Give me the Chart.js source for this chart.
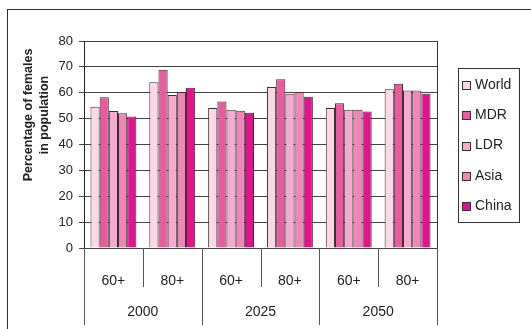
<!DOCTYPE html>
<html lang="en">
<head>
<meta charset="UTF-8">
<title>Percentage of females in population</title>
<script src="https://cdn.jsdelivr.net/npm/chart.js"></script>
<style>
  body { margin: 0; background: #fff; }
  #frame { position: absolute; left: 7px; top: 9px; width: 540px; height: 340px;
           border-left: 1px solid #333; border-top: 1px solid #333; }
  #wrap { position: absolute; left: 0; top: 0; width: 531px; height: 329px; }
</style>
</head>
<body>
<div id="frame"></div>
<div id="wrap"><canvas id="femChart"></canvas></div>
<script>
  const ageGroups = ['60+', '80+', '60+', '80+', '60+', '80+'];
  const years = ['2000', '2025', '2050'];
  const world = [54.6, 64.1, 54.1, 62.2, 54.1, 61.4];
  const mdr   = [58.3, 68.9, 56.6, 65.2, 55.9, 63.5];
  const ldr   = [52.9, 59.1, 53.4, 59.6, 53.4, 60.9];
  const asia  = [52.1, 60.3, 53.0, 60.3, 53.4, 60.9];
  const china = [50.8, 61.9, 52.3, 58.5, 52.8, 59.6];
  const yMax = 80, yStep = 10;

  const FONT = '"Liberation Sans", Arial, sans-serif';
  const INK = '#222';

  // year brackets under the age labels, right border, y title and boxed legend
  const extras = {
    id: 'extras',
    afterDraw(chart) {
      const ctx = chart.ctx, x = chart.scales.x, a = chart.chartArea;
      const step = x.getPixelForValue(1) - x.getPixelForValue(0);
      ctx.save();
      ctx.strokeStyle = '#555';
      ctx.lineWidth = 1;
      for (let i = 0; i <= ageGroups.length; i++) {
        const px = Math.round(x.getPixelForValue(i) - step / 2) + 0.5;
        ctx.beginPath();
        ctx.moveTo(px, a.bottom);
        ctx.lineTo(px, i % 2 === 0 ? 325 : 287);
        ctx.stroke();
      }
      ctx.strokeStyle = '#333';
      ctx.beginPath();
      ctx.moveTo(Math.round(a.right) + 0.5, a.top);
      ctx.lineTo(Math.round(a.right) + 0.5, a.bottom);
      ctx.stroke();

      ctx.fillStyle = INK;
      ctx.font = '14px ' + FONT;
      ctx.textAlign = 'center';
      ctx.textBaseline = 'middle';
      years.forEach((yr, k) => {
        const cx = (x.getPixelForValue(2 * k) + x.getPixelForValue(2 * k + 1)) / 2;
        ctx.fillText(yr, cx, 312);
      });

      ctx.save();
      ctx.translate(37, 115);
      ctx.rotate(-Math.PI / 2);
      ctx.font = 'bold 12.5px ' + FONT;
      ctx.fillText('Percentage of females', 0, -8);
      ctx.fillText('in population', 0, 8);
      ctx.restore();

      ctx.strokeStyle = '#333';
      ctx.strokeRect(458.5, 68.5, 61, 154);
      ctx.font = '14px ' + FONT;
      ctx.textAlign = 'left';
      chart.data.datasets.forEach((ds, i) => {
        const cy = 85 + i * 30.3;
        ctx.fillStyle = ds.backgroundColor;
        ctx.fillRect(462.5, Math.round(cy - 4) + 0.5, 8, 8);
        ctx.strokeRect(462.5, Math.round(cy - 4) + 0.5, 8, 8);
        ctx.fillStyle = INK;
        ctx.fillText(ds.label, 475, cy);
      });
      ctx.restore();
    }
  };

  const series = [
    ['World', world, '#fcd8e6'],
    ['MDR', mdr, '#ea5a9e'],
    ['LDR', ldr, '#f6aacd'],
    ['Asia', asia, '#f085b8'],
    ['China', china, '#e5138b']
  ];

  new Chart(document.getElementById('femChart'), {
    type: 'bar',
    data: {
      labels: ageGroups,
      datasets: series.map(([label, data, color]) => ({
        label, data,
        backgroundColor: color,
        borderColor: '#333',
        borderWidth: 1,
        borderSkipped: 'bottom',
        categoryPercentage: 0.78,
        barPercentage: 1.0
      }))
    },
    options: {
      responsive: true,
      maintainAspectRatio: false,
      animation: false,
      layout: { padding: { top: 41, right: 94, left: 0, bottom: 0 } },
      plugins: { legend: { display: false }, tooltip: { enabled: false } },
      scales: {
        x: {
          grid: { display: false },
          border: { display: false },
          ticks: { color: INK, font: { family: FONT, size: 14 }, padding: 17, maxRotation: 0 },
          afterFit(s) { s.height = 81; }
        },
        y: {
          min: 0, max: yMax,
          grid: { color: '#444', tickLength: 5 },
          border: { color: '#222' },
          ticks: { stepSize: yStep, color: INK, font: { family: FONT, size: 13 }, padding: 6 },
          afterFit(s) { s.width = 84; }
        }
      }
    },
    plugins: [extras]
  });
</script>
</body>
</html>
